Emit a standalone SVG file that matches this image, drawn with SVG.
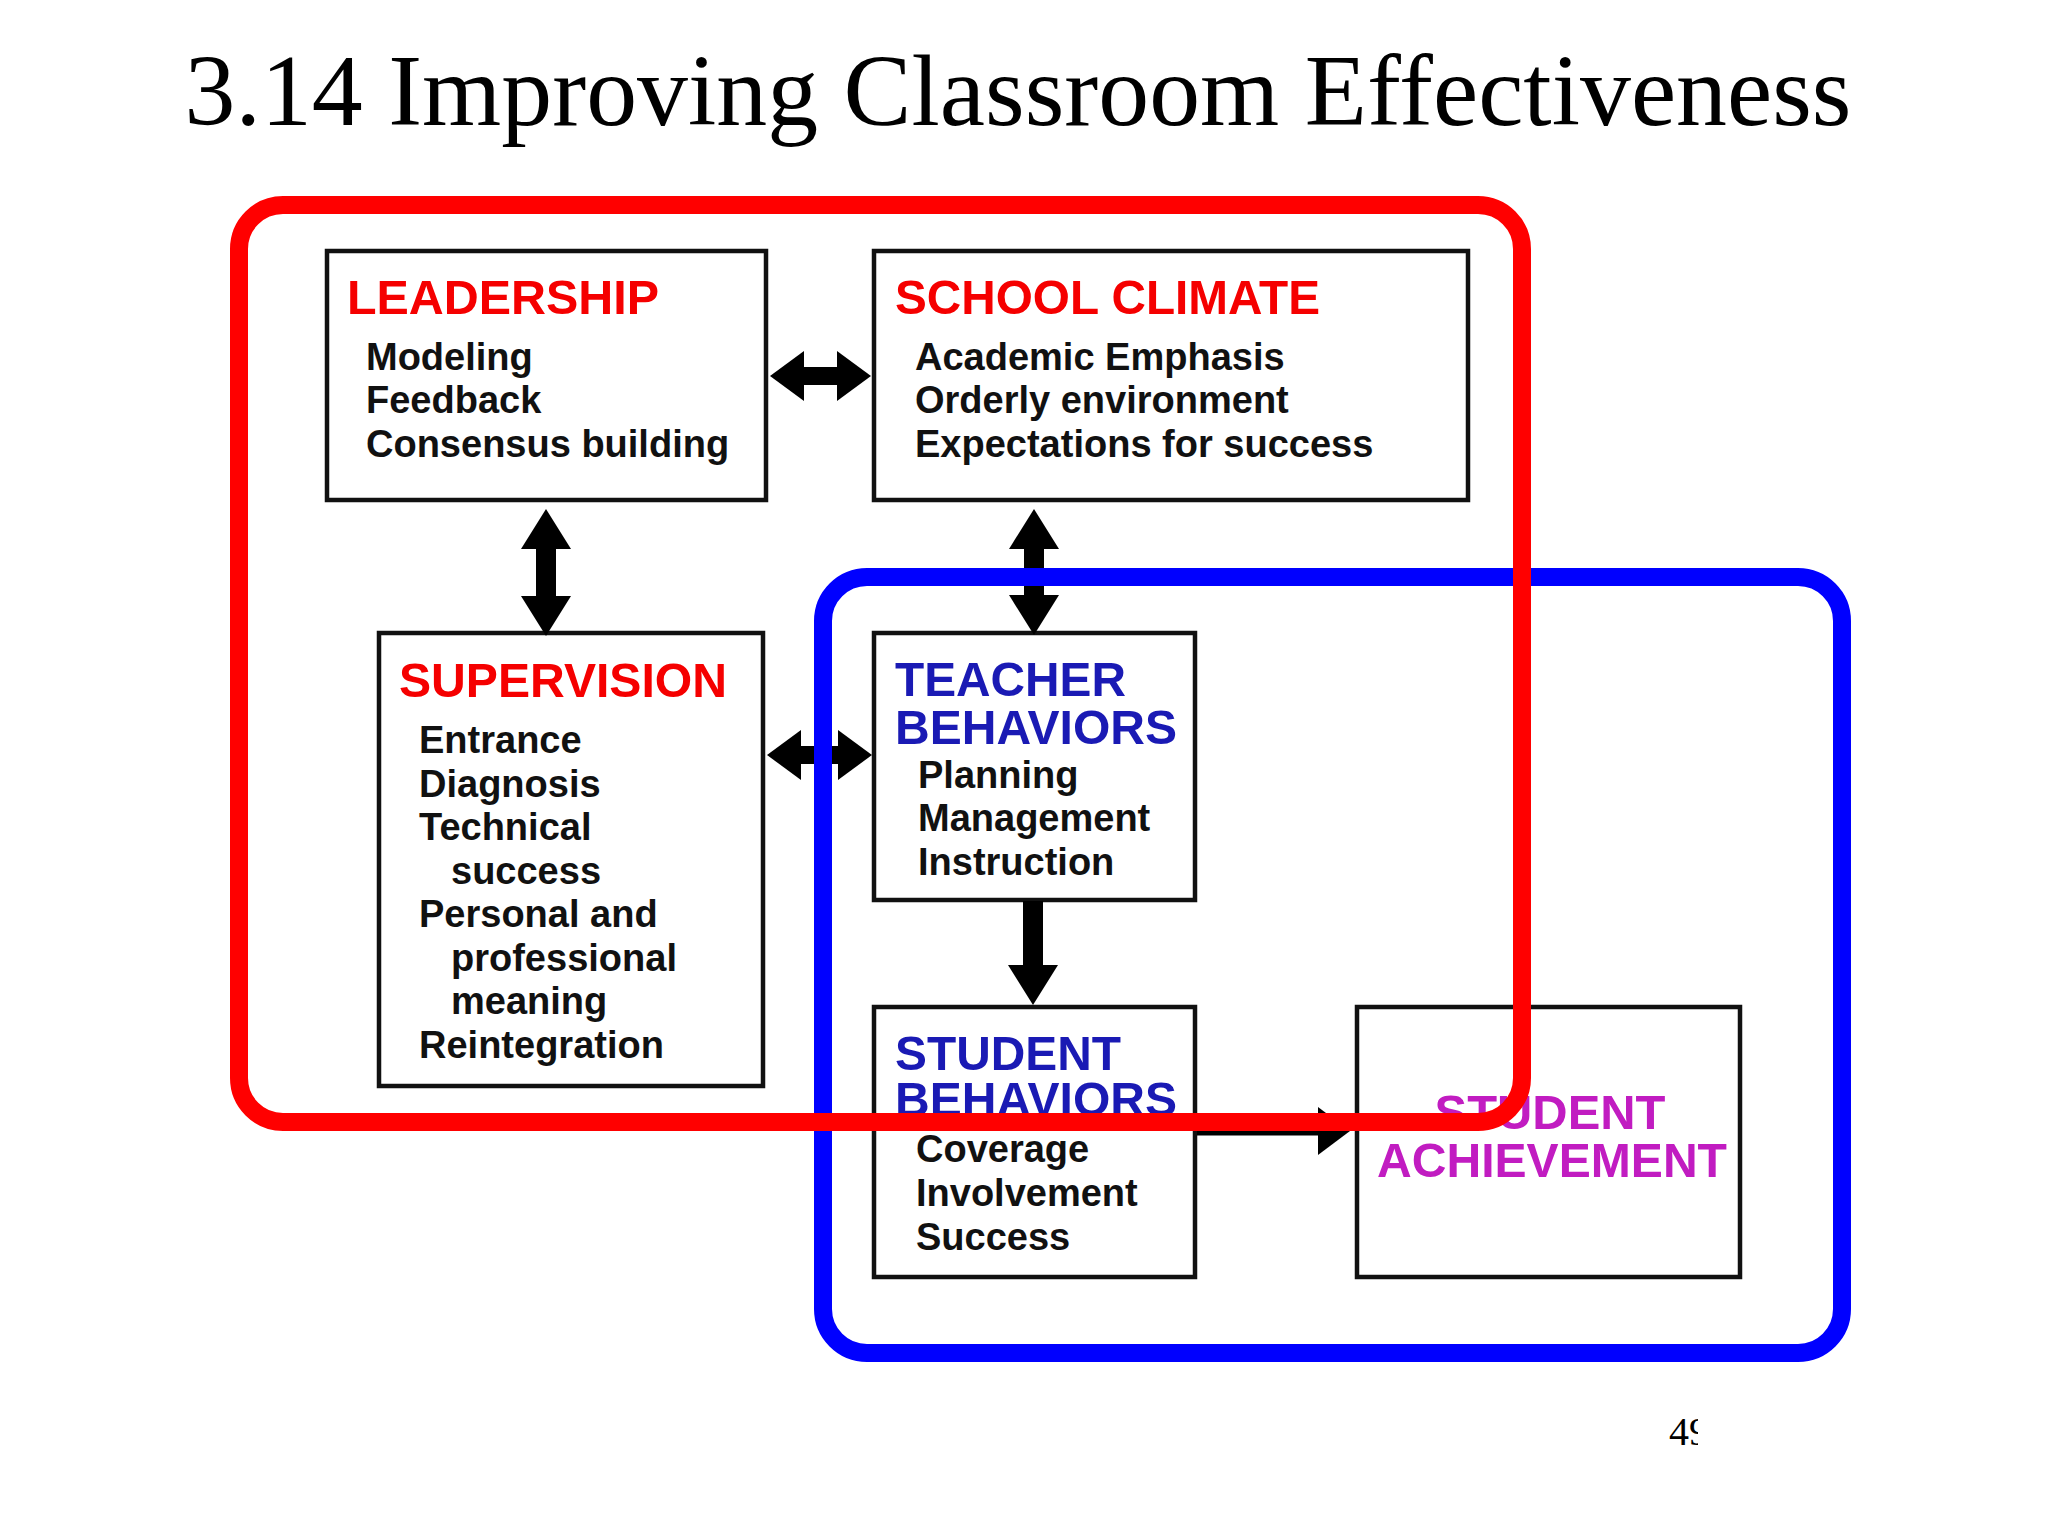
<svg xmlns="http://www.w3.org/2000/svg" width="2048" height="1536" viewBox="0 0 2048 1536">
  <style>
    .title { font-family: "Liberation Serif", "Times New Roman", serif; font-size: 102px; fill: #000; }
    .head { font-family: "Liberation Sans", Arial, sans-serif; font-weight: bold; font-size: 49px; }
    .red { fill: #f50000; }
    .blue { fill: #1a1ab4; }
    .mag { fill: #c11cc1; }
    .body { font-family: "Liberation Sans", Arial, sans-serif; font-weight: bold; font-size: 38px; fill: #111; }
    .box { fill: #fff; stroke: #111; stroke-width: 4.5; }
    .conn { stroke: #000; fill: none; }
    .region { fill: none; stroke-width: 18; }
    .pg { font-family: "Liberation Serif", "Times New Roman", serif; font-size: 40px; fill: #000; }
  </style>
  <defs>
    <marker id="ahV" markerUnits="userSpaceOnUse" viewBox="0 0 40 50" markerWidth="40" markerHeight="50" refX="1" refY="25" orient="auto-start-reverse">
      <path d="M0,0 L40,25 L0,50 Z" fill="#000"/>
    </marker>
    <marker id="ahH" markerUnits="userSpaceOnUse" viewBox="0 0 34 50" markerWidth="34" markerHeight="50" refX="1" refY="25" orient="auto-start-reverse">
      <path d="M0,0 L34,25 L0,50 Z" fill="#000"/>
    </marker>
    <marker id="ahS" markerUnits="userSpaceOnUse" viewBox="0 0 32 48" markerWidth="32" markerHeight="48" refX="1" refY="24" orient="auto">
      <path d="M0,0 L32,24 L0,48 Z" fill="#000"/>
    </marker>
    <clipPath id="pgclip">
      <rect x="1600" y="1380" width="98" height="100"/>
    </clipPath>
  </defs>

  <rect x="0" y="0" width="2048" height="1536" fill="#fff"/>

  <text class="title" x="1018" y="125" text-anchor="middle" textLength="1667" lengthAdjust="spacingAndGlyphs">3.14 Improving Classroom Effectiveness</text>

  <g id="node-leadership">
    <rect class="box" x="327" y="251" width="439" height="249"/>
    <text class="head red" x="347" y="314" textLength="312" lengthAdjust="spacingAndGlyphs">LEADERSHIP</text>
    <text class="body" x="366" y="370">Modeling</text>
    <text class="body" x="366" y="413">Feedback</text>
    <text class="body" x="366" y="457">Consensus building</text>
  </g>

  <g id="node-school-climate">
    <rect class="box" x="874" y="251" width="594" height="249"/>
    <text class="head red" x="895" y="314" textLength="425" lengthAdjust="spacingAndGlyphs">SCHOOL CLIMATE</text>
    <text class="body" x="915" y="370">Academic Emphasis</text>
    <text class="body" x="915" y="413">Orderly environment</text>
    <text class="body" x="915" y="457">Expectations for success</text>
  </g>

  <g id="node-supervision">
    <rect class="box" x="379" y="633" width="384" height="453"/>
    <text class="head red" x="399" y="697" textLength="328" lengthAdjust="spacingAndGlyphs">SUPERVISION</text>
    <text class="body" x="419" y="753">Entrance</text>
    <text class="body" x="419" y="797">Diagnosis</text>
    <text class="body" x="419" y="840">Technical</text>
    <text class="body" x="451" y="884">success</text>
    <text class="body" x="419" y="927">Personal and</text>
    <text class="body" x="451" y="971">professional</text>
    <text class="body" x="451" y="1014">meaning</text>
    <text class="body" x="419" y="1058">Reintegration</text>
  </g>

  <g id="node-teacher-behaviors">
    <rect class="box" x="874" y="633" width="321" height="267"/>
    <text class="head blue" x="895" y="696" textLength="231" lengthAdjust="spacingAndGlyphs">TEACHER</text>
    <text class="head blue" x="895" y="744" textLength="282" lengthAdjust="spacingAndGlyphs">BEHAVIORS</text>
    <text class="body" x="918" y="788">Planning</text>
    <text class="body" x="918" y="831">Management</text>
    <text class="body" x="918" y="875">Instruction</text>
  </g>

  <g id="node-student-behaviors">
    <rect class="box" x="874" y="1007" width="321" height="270"/>
    <text class="head blue" x="895" y="1070" textLength="226" lengthAdjust="spacingAndGlyphs">STUDENT</text>
    <text class="head blue" x="895" y="1116" textLength="282" lengthAdjust="spacingAndGlyphs">BEHAVIORS</text>
    <text class="body" x="916" y="1162">Coverage</text>
    <text class="body" x="916" y="1206">Involvement</text>
    <text class="body" x="916" y="1250">Success</text>
  </g>

  <g id="node-student-achievement">
    <rect class="box" x="1357" y="1007" width="383" height="270"/>
    <text class="head mag" x="1550" y="1129" text-anchor="middle" textLength="231" lengthAdjust="spacingAndGlyphs">STUDENT</text>
    <text class="head mag" x="1552" y="1177" text-anchor="middle" textLength="350" lengthAdjust="spacingAndGlyphs">ACHIEVEMENT</text>
  </g>

  <g id="connectors">
    <line class="conn" x1="803" y1="376" x2="838" y2="376" stroke-width="18" marker-start="url(#ahH)" marker-end="url(#ahH)"/>
    <line class="conn" x1="546" y1="548" x2="546" y2="597" stroke-width="20" marker-start="url(#ahV)" marker-end="url(#ahV)"/>
    <line class="conn" x1="1034" y1="548" x2="1034" y2="596" stroke-width="20" marker-start="url(#ahV)" marker-end="url(#ahV)"/>
    <line class="conn" x1="800" y1="755" x2="839" y2="755" stroke-width="18" marker-start="url(#ahH)" marker-end="url(#ahH)"/>
    <line class="conn" x1="1033" y1="901" x2="1033" y2="966" stroke-width="20" marker-end="url(#ahV)"/>
    <line class="conn" x1="1197" y1="1131" x2="1319" y2="1131" stroke-width="9" marker-end="url(#ahS)"/>
  </g>

  <g id="region-outcomes">
    <rect class="region" x="823" y="577" width="1019" height="776" rx="44" ry="44" stroke="#0000ff"/>
  </g>
  <g id="region-school">
    <rect class="region" x="239" y="205" width="1283" height="917" rx="44" ry="44" stroke="#ff0000"/>
  </g>

  <text class="pg" x="1669" y="1445" clip-path="url(#pgclip)">49</text>
</svg>
